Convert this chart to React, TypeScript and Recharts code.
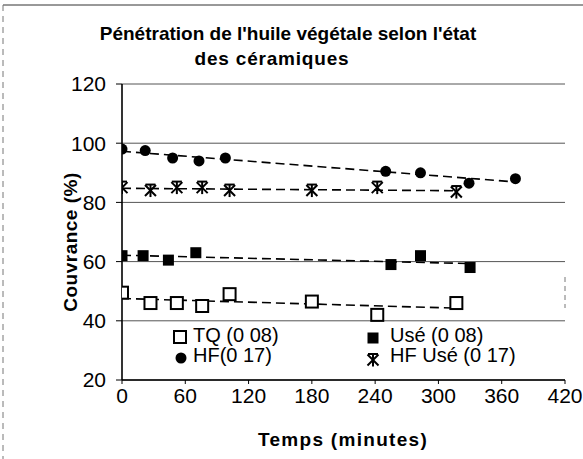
import React from "react";
import { ScatterChart, Scatter, XAxis, YAxis, CartesianGrid } from "recharts";

// Time (minutes) and coverage (%)
const tqTimes = [0, 27, 52, 76, 102, 180, 242, 317];
const tqValues = [49.5, 46, 46, 45, 49, 46.5, 42, 46];

const useTimes = [0, 20, 44, 70, 255, 283, 330];
const useValues = [62, 62, 60.5, 63, 59, 62, 58];

const hfTimes = [0, 22, 48, 73, 98, 250, 283, 329, 373];
const hfValues = [98, 97.5, 95, 94, 95, 90.5, 90, 86.5, 88];

const hfUseTimes = [0, 27, 52, 76, 102, 180, 242, 317];
const hfUseValues = [85, 84, 85, 85, 84, 84, 85, 83.5];

const xTicks = [0, 60, 120, 180, 240, 300, 360, 420];
const yTicks = [20, 40, 60, 80, 100, 120];

const titleLine1 = "Pénétration de l'huile végétale selon l'état";
const titleLine2 = "des céramiques";
const xTitle = "Temps (minutes)";
const yTitle = "Couvrance (%)";
const legendLabels = ["TQ (0 08)", "Usé (0 08)", "HF(0 17)", "HF Usé (0 17)"];

const zip = (t: number[], v: number[]) => t.map((x, i) => ({ t: x, v: v[i] }));
const tqData = zip(tqTimes, tqValues);
const useData = zip(useTimes, useValues);
const hfData = zip(hfTimes, hfValues);
const hfUseData = zip(hfUseTimes, hfUseValues);

const FONT = "'Liberation Sans', Arial, sans-serif";

const OpenSquare = ({ cx, cy }: any) => (
  <rect x={cx - 6} y={cy - 6} width={12} height={12} fill="#fff" stroke="#000" strokeWidth={2} />
);
const FilledSquare = ({ cx, cy }: any) => (
  <rect x={cx - 5.5} y={cy - 5.5} width={11} height={11} fill="#000" />
);
const Dot = ({ cx, cy }: any) => <circle cx={cx} cy={cy} r={5.5} fill="#000" />;
const Star = ({ cx, cy }: any) => (
  <g stroke="#000" strokeWidth={2}>
    <line x1={cx - 5.5} y1={cy - 5.5} x2={cx + 5.5} y2={cy + 5.5} />
    <line x1={cx - 5.5} y1={cy + 5.5} x2={cx + 5.5} y2={cy - 5.5} />
    <line x1={cx} y1={cy - 6.5} x2={cx} y2={cy + 6.5} />
    <line x1={cx - 5} y1={cy - 6} x2={cx + 5} y2={cy - 6} />
  </g>
);

const trendLine = { stroke: "#000", strokeWidth: 1.6, strokeDasharray: "9 5" };

export default function App() {
  return (
    <div style={{ position: "absolute", left: 0, top: 0, width: 583, height: 459, background: "#fff" }}>
      <ScatterChart
        width={583}
        height={459}
        margin={{ top: 84, right: 18, bottom: 49, left: 2 }}
        style={{ fontFamily: FONT }}
      >
        <CartesianGrid vertical={false} stroke="#555" strokeWidth={1} />
        <XAxis
          type="number"
          dataKey="t"
          domain={[0, 420]}
          ticks={xTicks}
          interval={0}
          height={30}
          axisLine={{ stroke: "#000", strokeWidth: 1.6 }}
          tickLine={{ stroke: "#000" }}
          tickSize={4}
          tickMargin={4}
          tick={{ fontSize: 21, fill: "#000", fontFamily: FONT }}
          allowDataOverflow
        />
        <YAxis
          type="number"
          dataKey="v"
          domain={[20, 120]}
          ticks={yTicks}
          interval={0}
          width={120}
          axisLine={{ stroke: "#000", strokeWidth: 1.6 }}
          tickLine={{ stroke: "#000" }}
          tickSize={6}
          tickMargin={10}
          tick={{ fontSize: 21, fill: "#000", fontFamily: FONT }}
          allowDataOverflow
        />
        <Scatter data={tqData} line={trendLine} lineType="fitting" shape={OpenSquare} isAnimationActive={false} />
        <Scatter data={useData} line={trendLine} lineType="fitting" shape={FilledSquare} isAnimationActive={false} />
        <Scatter data={hfData} line={trendLine} lineType="fitting" shape={Dot} isAnimationActive={false} />
        <Scatter data={hfUseData} line={trendLine} lineType="fitting" shape={Star} isAnimationActive={false} />
      </ScatterChart>
      <svg
        width={583}
        height={459}
        style={{ position: "absolute", left: 0, top: 0, pointerEvents: "none", fontFamily: FONT }}
      >
        <line x1={3} y1={5} x2={583} y2={5} stroke="#333" strokeWidth={1} />
        <line x1={3} y1={5} x2={3} y2={459} stroke="#777" strokeWidth={1} strokeDasharray="6 5" />
        <line x1={565} y1={277} x2={565} y2={308} stroke="#777" strokeWidth={1} strokeDasharray="5 4" />
        <text x={288} y={33} textAnchor="middle" dominantBaseline="central" fontSize={19} fontWeight="bold" fill="#000">
          {titleLine1}
        </text>
        <text x={272} y={58} textAnchor="middle" dominantBaseline="central" fontSize={19} fontWeight="bold" letterSpacing={0.8} fill="#000">
          {titleLine2}
        </text>
        <text x={343} y={439} textAnchor="middle" dominantBaseline="central" fontSize={19} fontWeight="bold" letterSpacing={1.3} fill="#000">
          {xTitle}
        </text>
        <text
          x={0}
          y={0}
          transform="translate(70 242) rotate(-90)"
          textAnchor="middle"
          dominantBaseline="central"
          fontSize={19}
          fontWeight="bold"
          letterSpacing={0.5}
          fill="#000"
        >
          {yTitle}
        </text>
        {/* legend */}
        <OpenSquare cx={180} cy={337} />
        <text x={193} y={335} dominantBaseline="central" fontSize={20} fill="#000">{legendLabels[0]}</text>
        <Dot cx={181} cy={358} />
        <text x={193} y={355} dominantBaseline="central" fontSize={20} fill="#000">{legendLabels[2]}</text>
        <FilledSquare cx={373} cy={338} />
        <text x={390} y={335} dominantBaseline="central" fontSize={20} fill="#000">{legendLabels[1]}</text>
        <Star cx={373} cy={360} />
        <text x={390} y={355} dominantBaseline="central" fontSize={20} fill="#000">{legendLabels[3]}</text>
      </svg>
    </div>
  );
}
